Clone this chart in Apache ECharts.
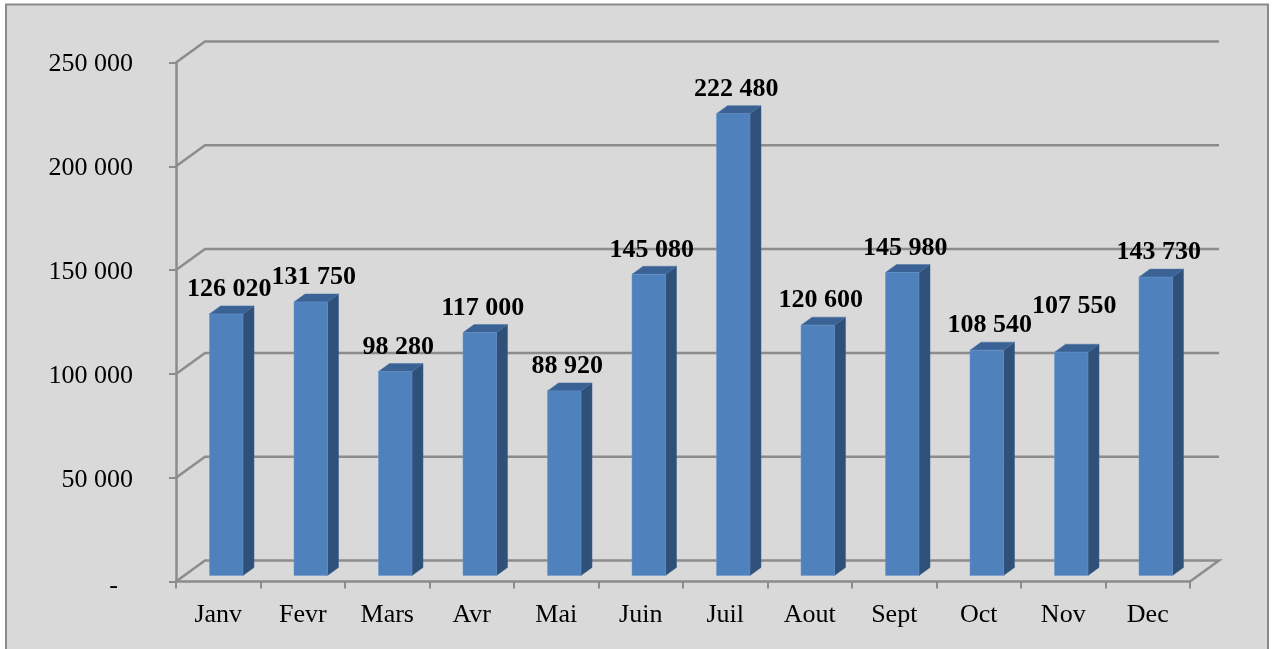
<!DOCTYPE html>
<html>
<head>
<meta charset="utf-8">
<style>html,body{margin:0;padding:0;background:#fff}#c{width:1272px;height:649px}</style>
<script src="https://cdn.jsdelivr.net/npm/echarts@6/dist/echarts.min.js"></script>
</head>
<body>
<div id="c"></div>
<script>
const categories = ['Janv','Fevr','Mars','Avr','Mai','Juin','Juil','Aout','Sept','Oct','Nov','Dec'];
const values = [126020,131750,98280,117000,88920,145080,222480,120600,145980,108540,107550,143730];
const yTicks = [0,50000,100000,150000,200000,250000];

const FONT = '"Liberation Serif","Times New Roman",serif';
const WALL_DX = 29, WALL_DY = 21;
const BAR_DX = 8, BAR_DY = 6, BAR_W = 33.5, SIDE_DX = 11, SIDE_DY = 8;
const fmt = v => String(v).replace(/\B(?=(\d{3})+$)/g, ' ');

const chart = echarts.init(document.getElementById('c'), null, {renderer:'canvas'});
chart.setOption({
  animation:false,
  backgroundColor:'#ffffff',
  grid:{left:176,right:82,top:62.5,bottom:67.5,containLabel:false},
  graphic:[{type:'rect',silent:true,z:-1,shape:{x:6,y:4.5,width:1262,height:660},
    style:{fill:'#d9d9d9',stroke:'#8a8a8a',lineWidth:2}}],
  xAxis:{type:'category',data:categories,
    axisLine:{lineStyle:{color:'#8c8c8c',width:2.5}},
    axisTick:{show:true,alignWithLabel:false,length:7,lineStyle:{color:'#8c8c8c',width:2}},
    axisLabel:{color:'#000',fontFamily:FONT,fontSize:26,margin:21},
    splitLine:{show:false}},
  yAxis:{type:'value',min:0,max:250000,interval:50000,
    axisLine:{show:true,lineStyle:{color:'#8c8c8c',width:2.5}},
    axisTick:{show:true,length:7,lineStyle:{color:'#8c8c8c',width:2}},
    axisLabel:{color:'#000',fontFamily:FONT,fontSize:26,margin:43,padding:[4,0,0,0],
      formatter:v=>v===0?'{dash|-}':fmt(v),
      rich:{dash:{fontFamily:FONT,fontSize:26,color:'#000',padding:[6,15,0,0]}}},
    splitLine:{show:false}},
  series:[
    {type:'custom',z:1,silent:true,clip:false,
     coordinateSystem:'cartesian2d',
     data:yTicks.map(v=>[0,v]),
     renderItem(params,api){
       const v=api.value(1);
       const band=api.size([1,0])[0];
       const p=api.coord([0,v]);
       const x0=p[0]-band/2, y=p[1];
       const x1=x0+band*categories.length;
       const pts=[[x0,y],[x0+WALL_DX,y-WALL_DY],[x1+WALL_DX,y-WALL_DY]];
       if(v===0) pts.push([x1,y]);
       return {type:'polyline',shape:{points:pts},
         style:{fill:'none',stroke:'#8c8c8c',lineWidth:2.5}};
     }},
    {type:'custom',z:2,silent:true,clip:false,
     coordinateSystem:'cartesian2d',
     encode:{x:0,y:1},
     data:values.map((v,i)=>[i,v]),
     renderItem(params,api){
       const i=api.value(0), v=api.value(1);
       const top=api.coord([i,v]), base=api.coord([i,0]);
       const xl=top[0]+BAR_DX-BAR_W/2, xr=xl+BAR_W;
       const yt=top[1]-BAR_DY, yb=base[1]-BAR_DY;
       const labelDy=categories[i]==='Nov'?45.5:24.5;
       return {type:'group',children:[
         {type:'polygon',shape:{points:[[xr,yt],[xr+SIDE_DX,yt-SIDE_DY],[xr+SIDE_DX,yb-SIDE_DY],[xr,yb]]},
          style:{fill:'#2f5078',stroke:'#3a5f8c',lineWidth:0.5}},
         {type:'polygon',shape:{points:[[xl,yt],[xl+SIDE_DX,yt-SIDE_DY],[xr+SIDE_DX,yt-SIDE_DY],[xr,yt]]},
          style:{fill:'#3a6295',stroke:'#4a72a5',lineWidth:0.5}},
         {type:'rect',shape:{x:xl,y:yt,width:BAR_W,height:yb-yt},
          style:{fill:'#4f81bd',stroke:'#6a96cc',lineWidth:0.5}},
         {type:'text',z2:10,style:{text:fmt(v),x:(xl+xr)/2+3,y:yt-labelDy,
            align:'center',verticalAlign:'middle',
            fill:'#000',font:'bold 26px '+FONT}}
       ]};
     }}
  ]
});
</script>
</body>
</html>
